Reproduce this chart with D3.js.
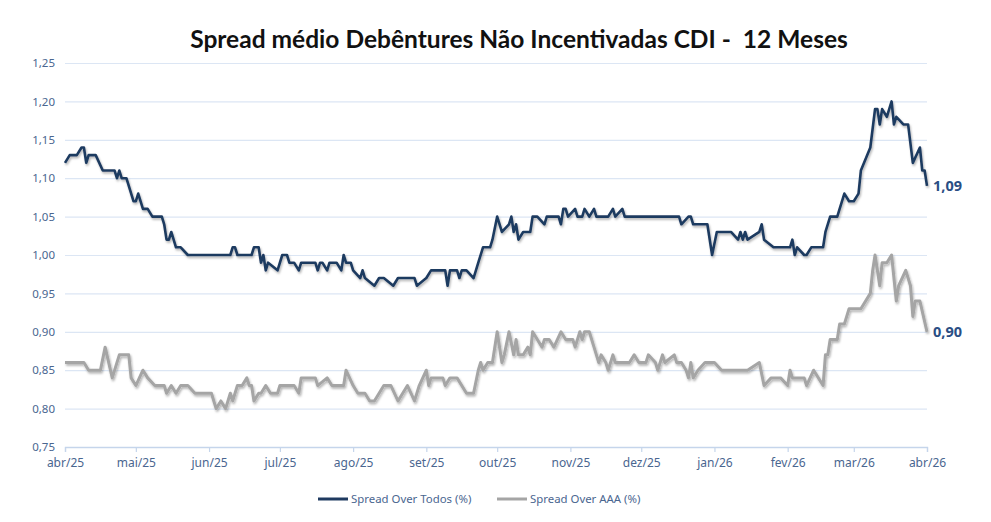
<!DOCTYPE html>
<html>
<head>
<meta charset="utf-8">
<script src="https://cdn.jsdelivr.net/npm/d3@7"></script>
<style>
  html, body { margin: 0; padding: 0; background: #ffffff; }
  svg { display: block; }
</style>
</head>
<body>
<svg id="chart" width="991" height="522"></svg>
<script>
// ---------- DATA ----------
const chartTitle = "Spread médio Debêntures Não Incentivadas CDI -  12 Meses";
const seriesNames = ["Spread Over Todos (%)", "Spread Over AAA (%)"];
const monthTicks = ["2025-04-01","2025-05-01","2025-06-01","2025-07-01","2025-08-01","2025-09-01",
  "2025-10-01","2025-11-01","2025-12-01","2026-01-01","2026-02-01","2026-03-01","2026-04-01"];
const monthLabels = ["abr/25","mai/25","jun/25","jul/25","ago/25","set/25","out/25","nov/25",
  "dez/25","jan/26","fev/26","mar/26","abr/26"];
const yTicks = [0.75, 0.80, 0.85, 0.90, 0.95, 1.00, 1.05, 1.10, 1.15, 1.20, 1.25];

const todosDates = ["2025-04-01","2025-04-03","2025-04-06","2025-04-08","2025-04-09","2025-04-10","2025-04-11","2025-04-14",
  "2025-04-17","2025-04-22","2025-04-23","2025-04-24","2025-04-25","2025-04-27","2025-04-30","2025-05-01","2025-05-02",
  "2025-05-04","2025-05-06","2025-05-08","2025-05-12","2025-05-13","2025-05-14","2025-05-15","2025-05-16","2025-05-18",
  "2025-05-20","2025-05-23","2025-06-10","2025-06-11","2025-06-12","2025-06-13","2025-06-19","2025-06-20","2025-06-22",
  "2025-06-23","2025-06-24","2025-06-25","2025-06-26","2025-06-30","2025-07-02","2025-07-04","2025-07-05","2025-07-07",
  "2025-07-09","2025-07-10","2025-07-16","2025-07-17","2025-07-18","2025-07-19","2025-07-21","2025-07-22","2025-07-25",
  "2025-07-27","2025-07-28","2025-07-29","2025-07-31","2025-08-01","2025-08-04","2025-08-05","2025-08-06","2025-08-10",
  "2025-08-12","2025-08-14","2025-08-18","2025-08-20","2025-08-27","2025-08-28","2025-09-01","2025-09-03","2025-09-09",
  "2025-09-10","2025-09-11","2025-09-14","2025-09-15","2025-09-16","2025-09-18","2025-09-21","2025-09-23","2025-09-25",
  "2025-09-28","2025-09-29","2025-10-01","2025-10-03","2025-10-06","2025-10-07","2025-10-08","2025-10-09","2025-10-10",
  "2025-10-12","2025-10-15","2025-10-16","2025-10-18","2025-10-21","2025-10-22","2025-10-27","2025-10-28","2025-10-29",
  "2025-10-30","2025-10-31","2025-11-03","2025-11-04","2025-11-06","2025-11-07","2025-11-09","2025-11-11","2025-11-12",
  "2025-11-17","2025-11-19","2025-11-20","2025-11-23","2025-11-24","2025-12-17","2025-12-18","2025-12-21","2025-12-22",
  "2025-12-23","2025-12-29","2025-12-31","2026-01-02","2026-01-08","2026-01-11","2026-01-12","2026-01-13","2026-01-14",
  "2026-01-15","2026-01-20","2026-01-21","2026-01-22","2026-01-26","2026-02-02","2026-02-03","2026-02-04","2026-02-05",
  "2026-02-08","2026-02-09","2026-02-11","2026-02-16","2026-02-17","2026-02-19","2026-02-22","2026-02-25","2026-02-27",
  "2026-03-01","2026-03-03","2026-03-04","2026-03-08","2026-03-10","2026-03-11","2026-03-12","2026-03-13","2026-03-15",
  "2026-03-17","2026-03-18","2026-03-19","2026-03-22","2026-03-24","2026-03-26","2026-03-29","2026-03-30","2026-03-31",
  "2026-04-01"];
const todosValues = [1.12,1.13,1.13,1.14,1.14,1.12,1.13,1.13,
  1.11,1.11,1.10,1.11,1.10,1.10,1.07,1.07,1.08,
  1.06,1.06,1.05,1.05,1.04,1.02,1.02,1.03,1.01,
  1.01,1.00,1.00,1.01,1.01,1.00,1.00,1.01,1.01,
  0.99,1.00,0.98,0.99,0.98,1.00,1.00,0.99,0.99,
  0.98,0.99,0.99,0.98,0.99,0.99,0.98,0.99,0.99,
  0.98,1.00,0.99,0.99,0.98,0.97,0.98,0.97,0.96,
  0.97,0.97,0.96,0.97,0.97,0.96,0.97,0.98,0.98,
  0.96,0.98,0.98,0.97,0.98,0.98,0.97,0.99,1.01,
  1.01,1.02,1.05,1.03,1.04,1.05,1.03,1.04,1.02,
  1.03,1.03,1.05,1.05,1.04,1.05,1.05,1.04,1.06,
  1.06,1.05,1.06,1.05,1.05,1.06,1.05,1.06,1.05,
  1.05,1.06,1.05,1.06,1.05,1.05,1.04,1.05,1.05,
  1.04,1.04,1.00,1.03,1.03,1.02,1.03,1.02,1.03,
  1.02,1.03,1.04,1.02,1.01,1.01,1.02,1.00,1.01,
  1.00,1.00,1.01,1.01,1.03,1.05,1.05,1.08,1.07,
  1.07,1.08,1.11,1.14,1.19,1.19,1.17,1.19,1.18,
  1.20,1.17,1.18,1.17,1.17,1.12,1.14,1.11,1.11,
  1.09];

const aaaDates = ["2025-04-01","2025-04-09","2025-04-11","2025-04-16","2025-04-18","2025-04-21","2025-04-24","2025-04-28",
  "2025-04-29","2025-05-01","2025-05-04","2025-05-06","2025-05-09","2025-05-13","2025-05-14","2025-05-16","2025-05-18",
  "2025-05-20","2025-05-23","2025-05-26","2025-06-02","2025-06-04","2025-06-06","2025-06-08","2025-06-10","2025-06-11",
  "2025-06-13","2025-06-15","2025-06-17","2025-06-18","2025-06-19","2025-06-20","2025-06-22","2025-06-23","2025-06-25",
  "2025-06-27","2025-06-30","2025-07-01","2025-07-07","2025-07-09","2025-07-10","2025-07-16","2025-07-17","2025-07-21",
  "2025-07-23","2025-07-28","2025-07-29","2025-08-01","2025-08-03","2025-08-06","2025-08-08","2025-08-10","2025-08-12",
  "2025-08-14","2025-08-17","2025-08-20","2025-08-22","2025-08-24","2025-08-27","2025-08-29","2025-09-01","2025-09-02",
  "2025-09-03","2025-09-08","2025-09-09","2025-09-11","2025-09-14","2025-09-18","2025-09-21","2025-09-23","2025-09-24",
  "2025-09-25","2025-09-27","2025-09-29","2025-10-01","2025-10-03","2025-10-04","2025-10-06","2025-10-08","2025-10-09",
  "2025-10-10","2025-10-12","2025-10-14","2025-10-15","2025-10-16","2025-10-18","2025-10-20","2025-10-21","2025-10-23",
  "2025-10-25","2025-10-28","2025-10-30","2025-11-02","2025-11-03","2025-11-05","2025-11-06","2025-11-07","2025-11-09",
  "2025-11-11","2025-11-13","2025-11-14","2025-11-16","2025-11-17","2025-11-19","2025-11-20","2025-11-26","2025-11-28",
  "2025-11-30","2025-12-03","2025-12-04","2025-12-07","2025-12-08","2025-12-10","2025-12-11","2025-12-15","2025-12-16",
  "2025-12-18","2025-12-20","2025-12-21","2025-12-22","2025-12-23","2025-12-25","2025-12-28","2026-01-01","2026-01-04",
  "2026-01-15","2026-01-20","2026-01-22","2026-01-25","2026-01-29","2026-02-01","2026-02-02","2026-02-03","2026-02-08",
  "2026-02-09","2026-02-12","2026-02-16","2026-02-17","2026-02-18","2026-02-19","2026-02-22","2026-02-23","2026-02-25",
  "2026-02-27","2026-03-04","2026-03-08","2026-03-09","2026-03-10","2026-03-12","2026-03-13","2026-03-15","2026-03-17",
  "2026-03-19","2026-03-20","2026-03-23","2026-03-25","2026-03-26","2026-03-27","2026-03-29","2026-04-01"];
const aaaValues = [0.86,0.86,0.85,0.85,0.88,0.84,0.87,0.87,
  0.84,0.83,0.85,0.84,0.83,0.83,0.82,0.83,0.82,
  0.83,0.83,0.82,0.82,0.80,0.81,0.80,0.82,0.81,
  0.83,0.83,0.84,0.83,0.83,0.81,0.82,0.82,0.83,
  0.82,0.82,0.83,0.83,0.82,0.84,0.84,0.83,0.84,
  0.83,0.83,0.85,0.83,0.82,0.82,0.81,0.81,0.82,
  0.83,0.83,0.81,0.82,0.83,0.81,0.83,0.85,0.83,
  0.84,0.84,0.83,0.84,0.84,0.82,0.82,0.85,0.86,
  0.85,0.86,0.86,0.90,0.86,0.87,0.90,0.87,0.89,
  0.87,0.87,0.88,0.87,0.90,0.89,0.88,0.89,0.89,
  0.88,0.90,0.89,0.89,0.88,0.90,0.89,0.90,0.90,
  0.88,0.86,0.87,0.86,0.85,0.87,0.86,0.86,0.87,
  0.86,0.86,0.87,0.86,0.85,0.87,0.86,0.87,0.86,
  0.86,0.85,0.84,0.86,0.84,0.85,0.86,0.86,0.85,
  0.85,0.86,0.83,0.84,0.84,0.83,0.85,0.84,0.84,
  0.83,0.85,0.83,0.87,0.87,0.89,0.89,0.91,0.91,
  0.93,0.93,0.95,0.98,1.00,0.96,0.99,0.99,1.00,
  0.94,0.96,0.98,0.96,0.92,0.94,0.94,0.90];

// ---------- CHART ----------
const parse = d3.timeParse("%Y-%m-%d");
const todos = todosDates.map((d, i) => ({ date: parse(d), value: todosValues[i] }));
const aaa = aaaDates.map((d, i) => ({ date: parse(d), value: aaaValues[i] }));

const W = 991, H = 522;
const margin = { left: 65, right: 64, top: 63, bottom: 75 };
const svg = d3.select("#chart");

const x = d3.scaleTime()
  .domain([parse(monthTicks[0]), parse(monthTicks[monthTicks.length - 1])])
  .range([margin.left, W - margin.right]);
const y = d3.scaleLinear().domain([0.75, 1.25]).range([H - margin.bottom, margin.top]);

const locale = d3.formatLocale({ decimal: ",", thousands: ".", grouping: [3], currency: ["R$", ""] });
const fmt = locale.format(".2f");

const labelColor = "#4A6690";
const gridColor = "#DCE6F4";
const axisColor = "#C5D5EB";

// shadow filter
const defs = svg.append("defs");
const f = defs.append("filter").attr("id", "shadow").attr("x", "-5%").attr("y", "-20%")
  .attr("width", "110%").attr("height", "140%");
f.append("feDropShadow").attr("dx", 1).attr("dy", 1.8).attr("stdDeviation", 1.3)
  .attr("flood-color", "#000").attr("flood-opacity", 0.3);

// title
const title = svg.append("text")
  .attr("x", 519).attr("y", 48)
  .attr("text-anchor", "middle")
  .style("white-space", "pre")
  .attr("font-family", "Lato, 'Open Sans', sans-serif")
  .attr("font-weight", "bold")
  .attr("font-size", 24)
  .attr("fill", "#111111")
  .text(chartTitle);
const tw = title.node().getComputedTextLength();
title.attr("font-size", 24 * 658 / tw);

// y grid + labels
const yAxis = d3.axisLeft(y).tickValues(yTicks).tickFormat(fmt)
  .tickSize(-(W - margin.left - margin.right)).tickPadding(10);
const gy = svg.append("g").attr("transform", `translate(${margin.left},0)`).call(yAxis);
gy.select(".domain").remove();
gy.selectAll(".tick line").attr("stroke", gridColor).attr("stroke-width", 1.2);
gy.selectAll(".tick text").attr("fill", labelColor)
  .attr("font-family", "'Noto Sans', sans-serif").attr("font-size", 11.5);

// x axis
const xAxis = d3.axisBottom(x).tickValues(monthTicks.map(parse))
  .tickFormat((d, i) => monthLabels[i]).tickSize(5).tickPadding(6);
const gx = svg.append("g").attr("transform", `translate(0,${y(0.75)})`).call(xAxis);
gx.select(".domain").attr("stroke", axisColor).attr("stroke-width", 1.3);
gx.selectAll(".tick line").attr("stroke", axisColor).attr("stroke-width", 1.2);
gx.selectAll(".tick text").attr("fill", labelColor)
  .attr("font-family", "'Noto Sans', sans-serif").attr("font-size", 12);

// lines
const line = d3.line().x(d => x(d.date)).y(d => y(d.value)).curve(d3.curveLinear);
svg.append("path").datum(aaa).attr("d", line)
  .attr("fill", "none").attr("stroke", "#A5A5A5").attr("stroke-width", 3)
  .attr("stroke-linejoin", "round").attr("filter", "url(#shadow)");
svg.append("path").datum(todos).attr("d", line)
  .attr("fill", "none").attr("stroke", "#1F3A60").attr("stroke-width", 2.6)
  .attr("stroke-linejoin", "round").attr("filter", "url(#shadow)");

// end labels
const endLabels = [todos[todos.length - 1], aaa[aaa.length - 1]];
svg.selectAll(".endlab").data(endLabels).join("text")
  .attr("class", "endlab")
  .attr("x", d => x(d.date) + 6)
  .attr("y", d => y(d.value) + 5)
  .attr("font-family", "'Noto Sans', sans-serif").attr("font-weight", "bold")
  .attr("font-size", 14.5).attr("fill", "#2A4E84")
  .text(d => fmt(d.value));

// legend
const legendItems = [
  { name: seriesNames[0], color: "#1F3A60", x0: 318 },
  { name: seriesNames[1], color: "#A5A5A5", x0: 497 }
];
const lg = svg.append("g");
legendItems.forEach(it => {
  lg.append("line").attr("x1", it.x0).attr("x2", it.x0 + 30).attr("y1", 499).attr("y2", 499)
    .attr("stroke", it.color).attr("stroke-width", 3);
  lg.append("text").attr("x", it.x0 + 33).attr("y", 503)
    .attr("font-family", "'Noto Sans', sans-serif").attr("font-size", 11.4)
    .attr("fill", labelColor).text(it.name);
});
</script>
</body>
</html>
